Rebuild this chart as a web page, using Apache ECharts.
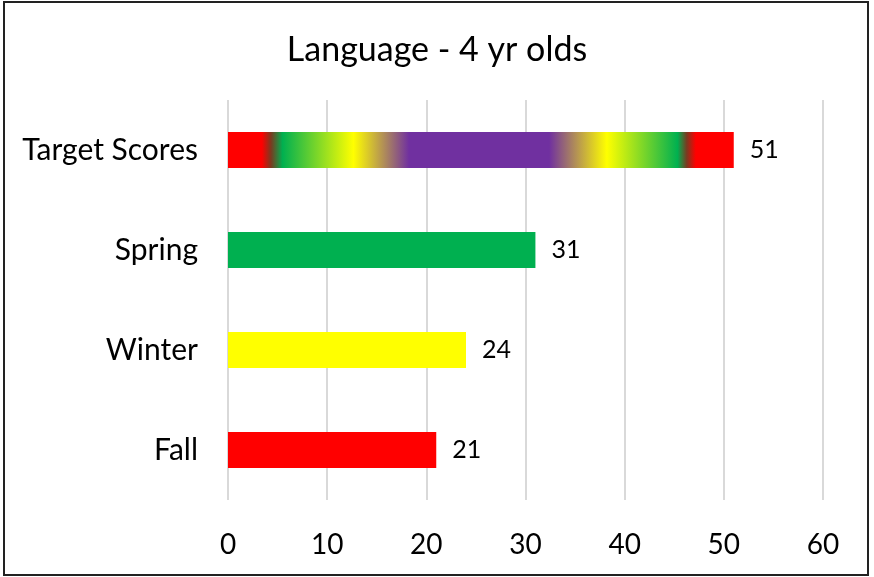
<!DOCTYPE html>
<html>
<head>
<meta charset="utf-8">
<script src="https://cdn.jsdelivr.net/npm/echarts@6/dist/echarts.min.js"></script>
<style>
  html, body { margin: 0; padding: 0; background: #fff; }
  #frame { position: absolute; left: 3px; top: 1px; width: 862px; height: 571px; border: 2px solid #222; }
  #chart { position: absolute; left: 0; top: 0; width: 874px; height: 577px; }
</style>
</head>
<body>
<div id="frame"></div>
<div id="chart"></div>
<script>
const titleText = 'Language - 4 yr olds'
const categories = ['Fall', 'Winter', 'Spring', 'Target Scores']
const scores = [21, 24, 31, 51]
const barColors = ['#FF0000', '#FFFF00', '#00B050', null]
// stripes of the target bar
const targetStops = [
  [0, '#FF0000'], [0.067, '#FF0000'], [0.085, '#7a3a20'], [0.108, '#00B050'],
  [0.248, '#FFFF00'], [0.358, '#7030A0'], [0.635, '#7030A0'], [0.749, '#FFFF00'],
  [0.889, '#00B050'], [0.907, '#7a3a20'], [0.925, '#FF0000'], [1, '#FF0000']
]

const chart = echarts.init(document.getElementById('chart'))
const fontFamily = 'Lato, "Open Sans", sans-serif'

chart.setOption({
  animation: false,
  backgroundColor: 'transparent',
  title: {
    text: titleText,
    left: 'center',
    top: 28,
    textStyle: { fontFamily, fontSize: 34, fontWeight: 'normal', color: '#000' }
  },
  grid: { left: 228, right: 51, top: 100, bottom: 77 },
  xAxis: {
    type: 'value',
    min: 0,
    max: 60,
    interval: 10,
    axisLine: { show: false },
    axisTick: { show: false },
    axisLabel: { fontFamily, fontSize: 28, color: '#000', margin: 31 },
    splitLine: { lineStyle: { color: '#d9d9d9', width: 2 } }
  },
  yAxis: {
    type: 'category',
    data: categories,
    axisLine: { show: false },
    axisTick: { show: false },
    axisLabel: { fontFamily, fontSize: 30, color: '#000', margin: 30 }
  },
  series: [{
    type: 'bar',
    barWidth: 36,
    data: scores.map((v, i) => ({
      value: v,
      itemStyle: {
        color: barColors[i] || new echarts.graphic.LinearGradient(0, 0, 1, 0,
          targetStops.map(s => ({ offset: s[0], color: s[1] })))
      }
    })),
    label: {
      show: true,
      position: 'right',
      distance: 16,
      fontFamily,
      fontSize: 25,
      color: '#000'
    }
  }]
})
</script>
</body>
</html>
